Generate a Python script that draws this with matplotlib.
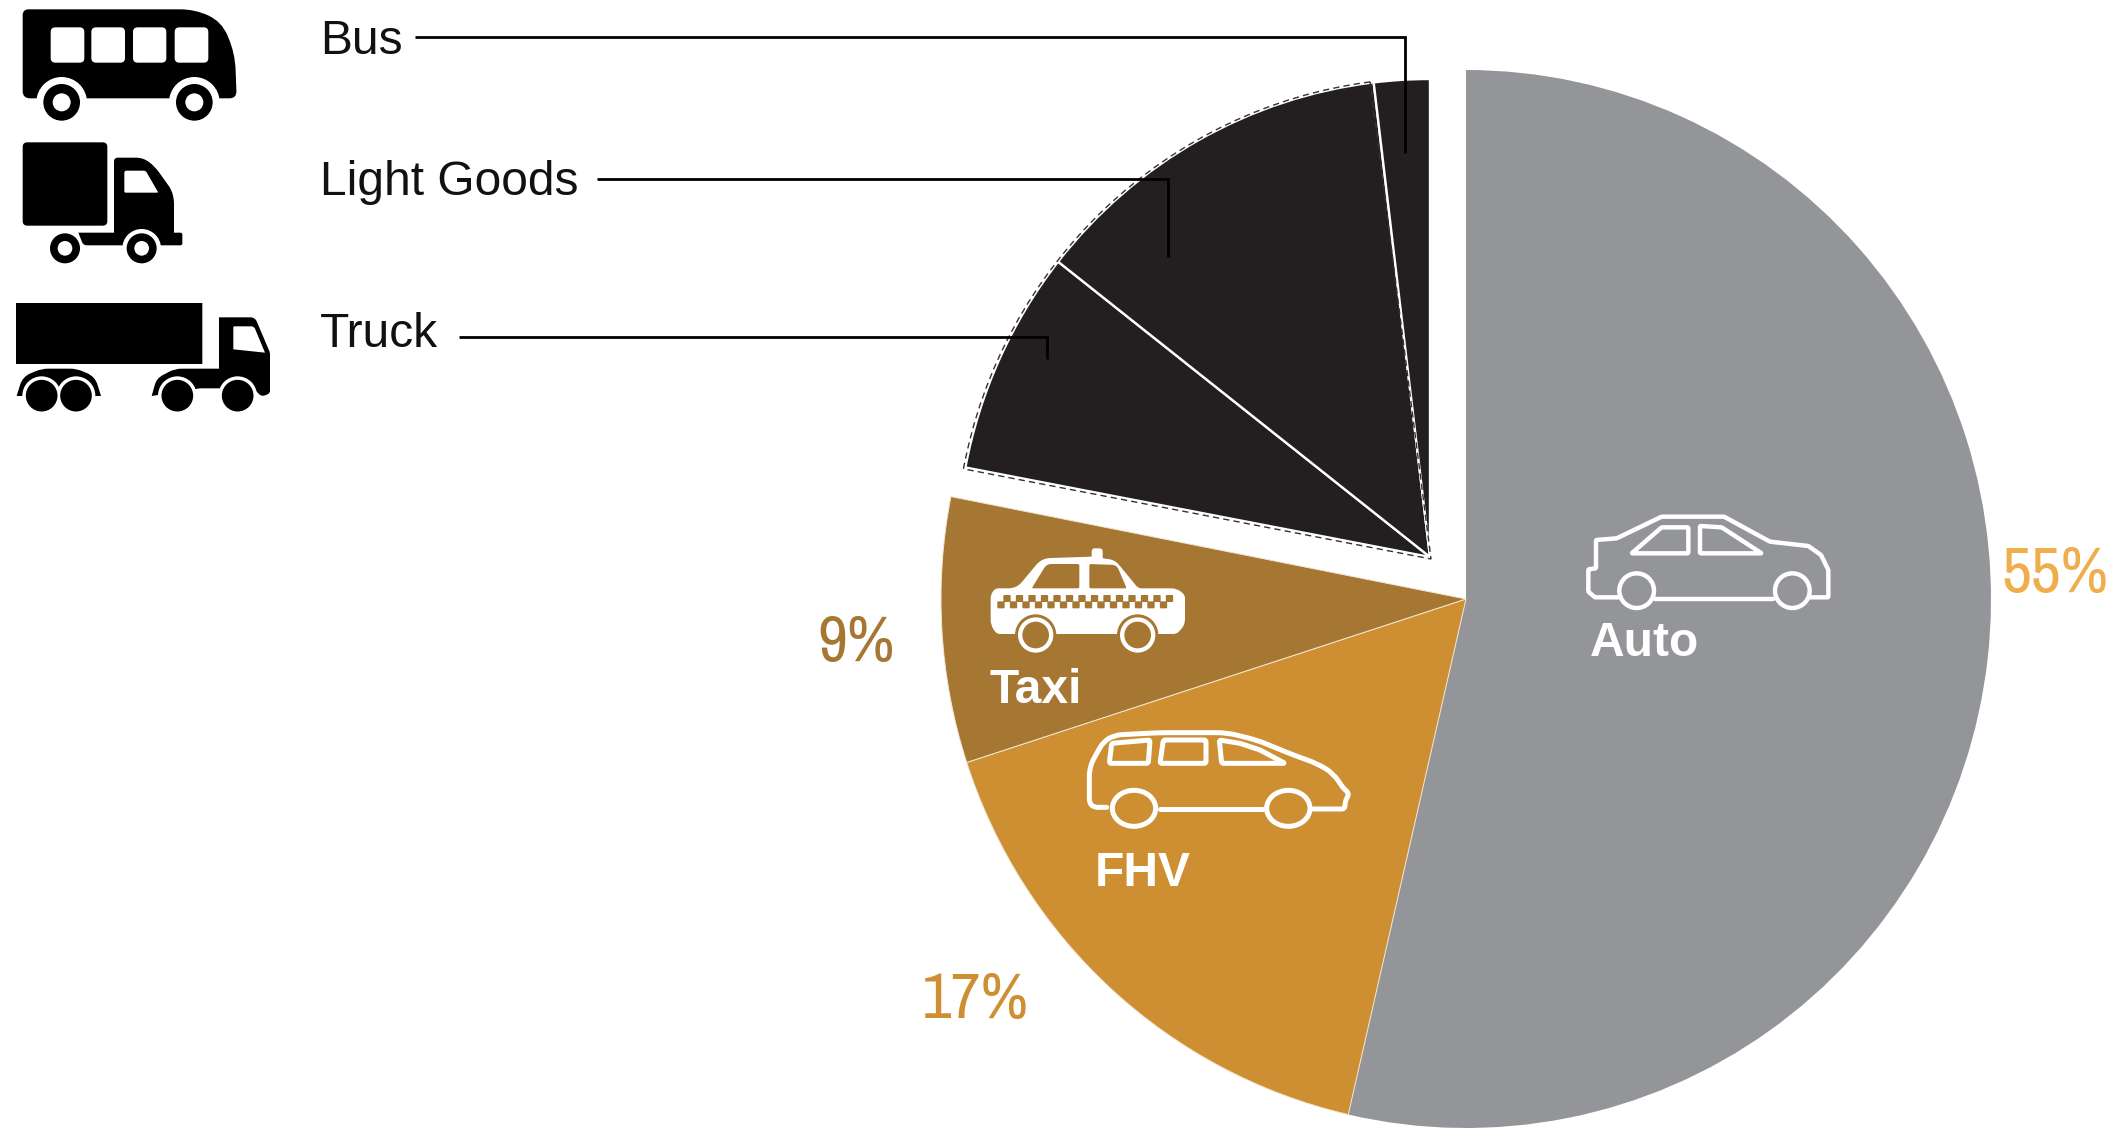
import numpy as np
import matplotlib
matplotlib.use("Agg")
import matplotlib.pyplot as plt
from matplotlib.patches import Wedge, PathPatch, Circle, Ellipse
from matplotlib.path import Path
from matplotlib.transforms import Affine2D
from matplotlib import font_manager as fm

W, H = 2119, 1130
# ---------- data ----------
main_categories = ["Auto", "FHV", "Taxi", "Other"]
main_shares = [53.6, 16.4, 8.1, 21.9]
main_colors = ["#939598", "#CD8F32", "#A57733", "none"]
group_categories = ["Rest", "Truck", "Light Goods", "Bus"]
group_shares = [78.0, 7.6, 12.5, 1.9]
group_colors = ["none", "#231F20", "#231F20", "#231F20"]
pct_labels = ["55%", "17%", "9%"]
pct_colors = ["#EFAD4C", "#CD8F32", "#A57733"]

SANS = "Liberation Sans"
narrow = [f for f in fm.fontManager.ttflist
          if ("narrow" in f.name.lower() or "condensed" in f.name.lower())
          and f.style == "normal" and f.weight in (400, "normal", "regular")
          and "dejavu" not in f.name.lower() and "mono" not in f.name.lower()]
if narrow:
    PCT_FONT = dict(fontproperties=fm.FontProperties(fname=narrow[0].fname, size=47))
else:
    PCT_FONT = dict(family="Roboto", fontsize=41.5)

fig = plt.figure(figsize=(W / 100, H / 100), dpi=100, facecolor="white")
ax = fig.add_axes([0, 0, 1, 1])

def Y(y):
    return H - y

# ---------- pies ----------
c1 = (1466, Y(599)); r1 = 525; k1 = 529 / 525
c2 = (1430, Y(557)); r2 = 473; k2 = 478 / 473
w1, _ = ax.pie(main_shares, colors=main_colors, startangle=90, counterclock=False,
               center=c1, radius=r1, frame=True, wedgeprops=dict(linewidth=0))
w2, _ = ax.pie(group_shares, colors=group_colors, startangle=90, counterclock=False,
               center=c2, radius=r2, frame=True, wedgeprops=dict(linewidth=0))
ax.set_xlim(0, W); ax.set_ylim(0, H); ax.set_aspect("equal"); ax.axis("off")

def squash(c, k):
    return Affine2D().translate(-c[0], -c[1]).scale(1, k).translate(c[0], c[1]) + ax.transData

for w in w1:
    w.set_transform(squash(c1, k1))
for w in w2:
    w.set_transform(squash(c2, k2))
for w in w1[-1:] + w2[:1]:
    w.set_visible(False)
for w in w1[1:3]:
    w.set_edgecolor("#F2E6D2"); w.set_linewidth(0.7)
for w in w2[1:]:
    w.set_edgecolor("white"); w.set_linewidth(1.7); w.set_zorder(3)
a1, a2 = w2[2].theta1, w2[1].theta2
c2d = (c2[0] + 1, c2[1] - 2)
ax.add_patch(Wedge(c2d, r2 + 3, a1 + 0.5, a2, fill=False, edgecolor="#333333", linewidth=1.0,
                   linestyle=(0, (4.5, 3)), zorder=4, transform=squash(c2d, k2)))

# ---------- icon helpers ----------
def conv(pts, ox, oy):
    return [np.array([ox + p[0] / 3, Y(oy + p[1] / 3)], float) for p in pts]

def rounded(pts, rad, ox, oy):
    pts = conv(pts, ox, oy)
    n = len(pts)
    rs = rad if hasattr(rad, "__len__") else [rad] * n
    v, c = [], []
    for i in range(n):
        p, a, b = pts[i], pts[i - 1], pts[(i + 1) % n]
        r = rs[i] / 3
        d1 = a - p; d2 = b - p
        l1 = np.hypot(*d1); l2 = np.hypot(*d2)
        r = min(r, l1 / 2, l2 / 2)
        s = p + d1 / l1 * r; e = p + d2 / l2 * r
        v.append(s); c.append(Path.MOVETO if i == 0 else Path.LINETO)
        v += [p, e]; c += [Path.CURVE3, Path.CURVE3]
    v.append(v[0]); c.append(Path.CLOSEPOLY)
    return Path(v, c)

def smooth_open(pts, rad, ox, oy):
    pts = conv(pts, ox, oy)
    v = [pts[0]]; c = [Path.MOVETO]
    for i in range(1, len(pts) - 1):
        p, a, b = pts[i], pts[i - 1], pts[i + 1]
        d1 = a - p; d2 = b - p
        l1 = np.hypot(*d1); l2 = np.hypot(*d2)
        r = min(rad / 3, l1 / 2, l2 / 2)
        v += [p + d1 / l1 * r, p, p + d2 / l2 * r]
        c += [Path.LINETO, Path.CURVE3, Path.CURVE3]
    v.append(pts[-1]); c.append(Path.LINETO)
    return Path(v, c)

def fill(pts, rad, ox, oy, color, z=5):
    ax.add_patch(PathPatch(rounded(pts, rad, ox, oy), facecolor=color, edgecolor="none", zorder=z))

def circ(x, y, r, ox, oy, color, z):
    ax.add_patch(Circle((ox + x / 3, Y(oy + y / 3)), r / 3, facecolor=color, edgecolor="none", zorder=z))

def rect(x0, y0, x1, y1, rad, ox, oy, color, z=6):
    fill([(x0, y0), (x1, y0), (x1, y1), (x0, y1)], rad, ox, oy, color, z)

def wheel(x, y, arch, r, hub, ox, oy):
    circ(x, y, arch, ox, oy, "white", 6)
    circ(x, y, r, ox, oy, "black", 7)
    circ(x, y, hub, ox, oy, "white", 8)

def line(pts, ox, oy, lw, rad=0):
    ax.add_patch(PathPatch(smooth_open(pts, rad, ox, oy), fill=False, edgecolor="white", linewidth=lw,
                           joinstyle="round", capstyle="round", zorder=6))

def loop(pts, ox, oy, lw, rad=6):
    ax.add_patch(PathPatch(rounded(pts, rad, ox, oy), fill=False, edgecolor="white", linewidth=lw,
                           joinstyle="round", zorder=6))

# ---------- bus ----------
fill([(68, 28), (585, 28), (665, 65), (705, 160), (710, 295), (68, 295)],
     [18, 70, 50, 50, 22, 22], 0, 0, "black")
for x0, x1 in [(152, 253), (274, 375), (399, 499), (524, 625)]:
    rect(x0, 82, x1, 188, 14, 0, 0, "white")
wheel(185, 307, 76, 55, 27, 0, 0)
wheel(583, 307, 76, 55, 27, 0, 0)

# ---------- light goods ----------
rect(68, 427, 322, 677, 14, 0, 0, "black", 5)
fill([(342, 473), (430, 473), (465, 500), (515, 570), (522, 600), (522, 698), (547, 698),
      (547, 736), (250, 736), (235, 698), (342, 698)],
     [12, 30, 20, 15, 10, 0, 6, 6, 10, 0, 0], 0, 0, "black")
fill([(373, 512), (437, 512), (475, 578), (373, 578)], [6, 6, 4, 4], 0, 0, "white", 6)
circ(195, 745, 45, 0, 0, "black", 7); circ(195, 745, 22, 0, 0, "white", 8)
wheel(425, 745, 58, 45, 22, 0, 0)

# ---------- truck ----------
rect(48, 909, 607, 1092, 0, 0, 0, "black", 5)
fill([(657, 952), (765, 952), (810, 1058), (810, 1180), (785, 1190), (760, 1165), (600, 1165),
      (455, 1188), (470, 1135), (525, 1106), (657, 1106)],
     [0, 14, 6, 8, 10, 0, 0, 0, 20, 20, 0], 0, 0, "black")
fill([(700, 979), (762, 979), (795, 1058), (700, 1048)], [3, 8, 0, 0], 0, 0, "white", 6)
fill([(50, 1188), (68, 1130), (125, 1106), (230, 1106), (285, 1130), (303, 1188)],
     [0, 25, 20, 20, 25, 0], 0, 0, "black")
for x in [125, 228, 532, 713]:
    circ(x, 1187, 58, 0, 0, "white", 6)
for x in [125, 228, 532, 713]:
    circ(x, 1187, 47.5, 0, 0, "black", 7)

# ---------- auto ----------
ox, oy = 1560, 490
LA = 3.2
line([(175, 322), (105, 322), (85, 305), (85, 238), (108, 235), (108, 150), (170, 145),
      (305, 80), (492, 80), (630, 155), (745, 168), (783, 195), (805, 240), (805, 322),
      (752, 322)], ox, oy, LA, 3)
line([(285, 327), (640, 327)], ox, oy, LA)
loop([(215, 190), (305, 112), (385, 112), (385, 190)], ox, oy, LA, 3)
loop([(420, 108), (485, 112), (605, 190), (420, 190)], ox, oy, LA, 3)
for x in (230, 697):
    ax.add_patch(Circle((ox + x / 3, Y(oy + 302 / 3)), 52 / 3, fill=False, edgecolor="white", lw=LA, zorder=6))

# ---------- FHV ----------
ox, oy = 1060, 710
LF = 3.6
line([(140, 292), (88, 292), (88, 170), (130, 95), (165, 75), (300, 68), (500, 68), (590, 90),
      (700, 135), (770, 160), (820, 190), (850, 235), (868, 250), (855, 275), (855, 297),
      (760, 297)], ox, oy, LF, 30)
line([(300, 297), (610, 297)], ox, oy, LF)
loop([(155, 100), (270, 90), (265, 160), (148, 160)], ox, oy, LF)
loop([(310, 90), (438, 90), (438, 160), (300, 160)], ox, oy, LF)
loop([(478, 90), (540, 100), (600, 120), (675, 160), (485, 160)], ox, oy, LF)
for x in (222, 685):
    ax.add_patch(Ellipse((ox + x / 3, Y(oy + 295 / 3)), 130 / 3, 108 / 3, fill=False,
                         edgecolor="white", lw=LF, zorder=6))

# ---------- taxi ----------
ox, oy = 960, 530
TX = "#A57733"
fill([(92, 195), (105, 175), (170, 175), (245, 85), (395, 80), (395, 55), (428, 55), (428, 85),
      (465, 90), (535, 175), (650, 175), (675, 195), (675, 285), (650, 312), (110, 312), (92, 285)],
     [10, 10, 25, 25, 3, 10, 10, 3, 20, 10, 15, 10, 18, 10, 10, 15], ox, oy, "white")
fill([(215, 175), (260, 102), (358, 102), (358, 175)], [5, 14, 5, 5], ox, oy, TX, 6)
fill([(388, 102), (470, 105), (500, 175), (388, 175)], [5, 14, 5, 5], ox, oy, TX, 6)
for i in range(14):
    x = 130 + 37.5 * i
    rect(x, 195, x + 22, 216, 3, ox, oy, TX, 6)
    x2 = 112 + 37.5 * i
    rect(x2, 214, x2 + 22, 235, 3, ox, oy, TX, 6)
for x in (227, 533):
    circ(x, 315, 62, ox, oy, TX, 7)
    circ(x, 315, 53, ox, oy, "white", 8)
    circ(x, 315, 40, ox, oy, TX, 9)

# ---------- leader lines ----------
for pts in ([(415, 37), (1405, 37), (1405, 153)],
            [(597, 179), (1168, 179), (1168, 257)],
            [(459, 337), (1047, 337), (1047, 359)]):
    xs, ys = zip(*pts)
    ax.plot(xs, [Y(v) for v in ys], color="black", lw=2.0, zorder=10,
            solid_joinstyle="miter", solid_capstyle="butt")

# ---------- text ----------
def T(x, y, s, **k):
    ax.text(x, Y(y), s, va="baseline", ha="left", **k)

for x, y, s in [(320, 54, group_categories[3]), (320, 195, group_categories[2]), (320, 347, group_categories[1])]:
    T(x, y, s, fontsize=34.5, family=SANS, color="#111111")
for x, y, s in [(1590, 656, main_categories[0]), (990, 703, main_categories[2]), (1095, 886, main_categories[1])]:
    T(x, y, s, fontsize=34.5, family=SANS, fontweight="bold", color="white", zorder=11)
for (x, y), s, c in zip([(2001, 592), (922, 1018), (817, 661)], pct_labels, pct_colors):
    T(x, y, s, color=c, **PCT_FONT)

fig.savefig("out.png", dpi=100)
